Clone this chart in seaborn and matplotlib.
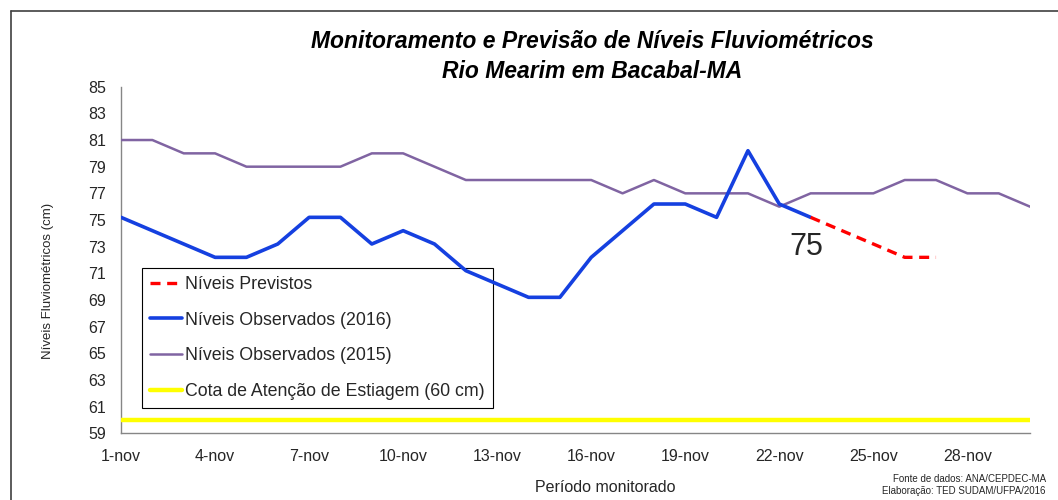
import numpy as np
import pandas as pd
import seaborn as sns
import matplotlib.pyplot as plt
from matplotlib.lines import Line2D

# Data
dias_2015 = list(range(1, 31))
niveis_2015 = [81, 81, 80, 80, 79, 79, 79, 79, 80, 80,
               79, 78, 78, 78, 78, 78, 77, 78, 77, 77,
               77, 76, 77, 77, 77, 78, 78, 77, 77, 76]

dias_2016 = list(range(1, 24))
niveis_2016 = [75.2, 74.2, 73.2, 72.2, 72.2, 73.2, 75.2, 75.2, 73.2, 74.2,
               73.2, 71.2, 70.2, 69.2, 69.2, 72.2, 74.2, 76.2, 76.2, 75.2,
               80.2, 76.2, 75.2]

dias_prev = [23, 24, 25, 26, 27]
niveis_prev = [75.2, 74.2, 73.2, 72.2, 72.2]

dias_cota = [1, 30]
cota = [60, 60]

xtick_dias = [1, 4, 7, 10, 13, 16, 19, 22, 25, 28]
xtick_labels = ["1-nov", "4-nov", "7-nov", "10-nov", "13-nov",
                "16-nov", "19-nov", "22-nov", "25-nov", "28-nov"]
yticks = list(range(59, 86, 2))

sns.set_style("white")
plt.rcParams["font.family"] = ["Liberation Sans", "DejaVu Sans"]

df_2015 = pd.DataFrame({"dia": dias_2015, "nivel": niveis_2015})
df_2016 = pd.DataFrame({"dia": dias_2016, "nivel": niveis_2016})
df_prev = pd.DataFrame({"dia": dias_prev, "nivel": niveis_prev})
df_cota = pd.DataFrame({"dia": dias_cota, "nivel": cota})

fig = plt.figure(figsize=(10.58, 5), dpi=100)
ax = fig.add_axes([0.1144, 0.1334, 0.8592, 0.6932])

sns.lineplot(data=df_cota, x="dia", y="nivel", ax=ax, color="#FFFF00",
             lw=3.2, label="Cota de Atenção de Estiagem (60 cm)")
sns.lineplot(data=df_2015, x="dia", y="nivel", ax=ax, color="#8064A2",
             lw=1.8, label="Níveis Observados (2015)")
sns.lineplot(data=df_2016, x="dia", y="nivel", ax=ax, color="#1540E0",
             lw=2.6, label="Níveis Observados (2016)")
sns.lineplot(data=df_prev, x="dia", y="nivel", ax=ax, color="#FF0000",
             lw=2.4, dashes=False, label="Níveis Previstos")
ax.lines[-1].set_dashes((3, 2))
for ln in ax.lines:
    ln.set_zorder(3)

ax.text(22.85, 73, "75", ha="center", va="center", fontsize=22)

ax.set_xlim(1, 30)
ax.set_ylim(59, 85)
ax.set_yticks(yticks)
ax.set_xticks(xtick_dias)
ax.set_xticklabels(xtick_labels)
ax.set_xticks(range(1, 31), minor=True)
ax.tick_params(axis="both", which="both", direction="out", length=5,
               color="#868686", width=1, labelsize=11.5, pad=6)
ax.set_xlabel("")
ax.set_ylabel("")
for s in ["top", "right"]:
    ax.spines[s].set_visible(False)
for s in ["left", "bottom"]:
    ax.spines[s].set_color("#868686")
    ax.spines[s].set_linewidth(1)

handles, labels = ax.get_legend_handles_labels()
order = [3, 2, 1, 0]
leg = ax.legend([handles[i] for i in order], [labels[i] for i in order],
                loc="lower left", bbox_to_anchor=(0.023, 0.073),
                borderaxespad=0, fontsize=12.8, fancybox=False,
                edgecolor="black", framealpha=1, labelspacing=1.05,
                handlelength=1.8, handletextpad=0.2, borderpad=0.45)
leg.get_frame().set_linewidth(0.8)
leg.set_zorder(1.5)

fig.text(0.5595, 0.916, "Monitoramento e Previsão de Níveis Fluviométricos",
         ha="center", va="center", fontsize=16.5, fontweight="bold",
         fontstyle="italic", color="black")
fig.text(0.5595, 0.856, "Rio Mearim em Bacabal-MA",
         ha="center", va="center", fontsize=16.5, fontweight="bold",
         fontstyle="italic", color="black")
fig.text(48 / 1058, 1 - 281 / 500, "Níveis Fluviométricos (cm)",
         rotation=90, ha="center", va="center", fontsize=9.5)
fig.text(605 / 1058, 1 - 487 / 500, "Período monitorado",
         ha="center", va="center", fontsize=11.5)
fig.text(1046 / 1058, 1 - 479 / 500, "Fonte de dados: ANA/CEPDEC-MA",
         ha="right", va="center", fontsize=7)
fig.text(1046 / 1058, 1 - 491 / 500, "Elaboração: TED SUDAM/UFPA/2016",
         ha="right", va="center", fontsize=7)

# outer chart border (only left and top visible)
fig.add_artist(Line2D([0.0104, 0.0104], [0, 0.978], color="#404040", lw=1.2,
                      transform=fig.transFigure))
fig.add_artist(Line2D([0.0104, 1], [0.978, 0.978], color="#404040", lw=1.2,
                      transform=fig.transFigure))

fig.savefig("out.png", dpi=100)
